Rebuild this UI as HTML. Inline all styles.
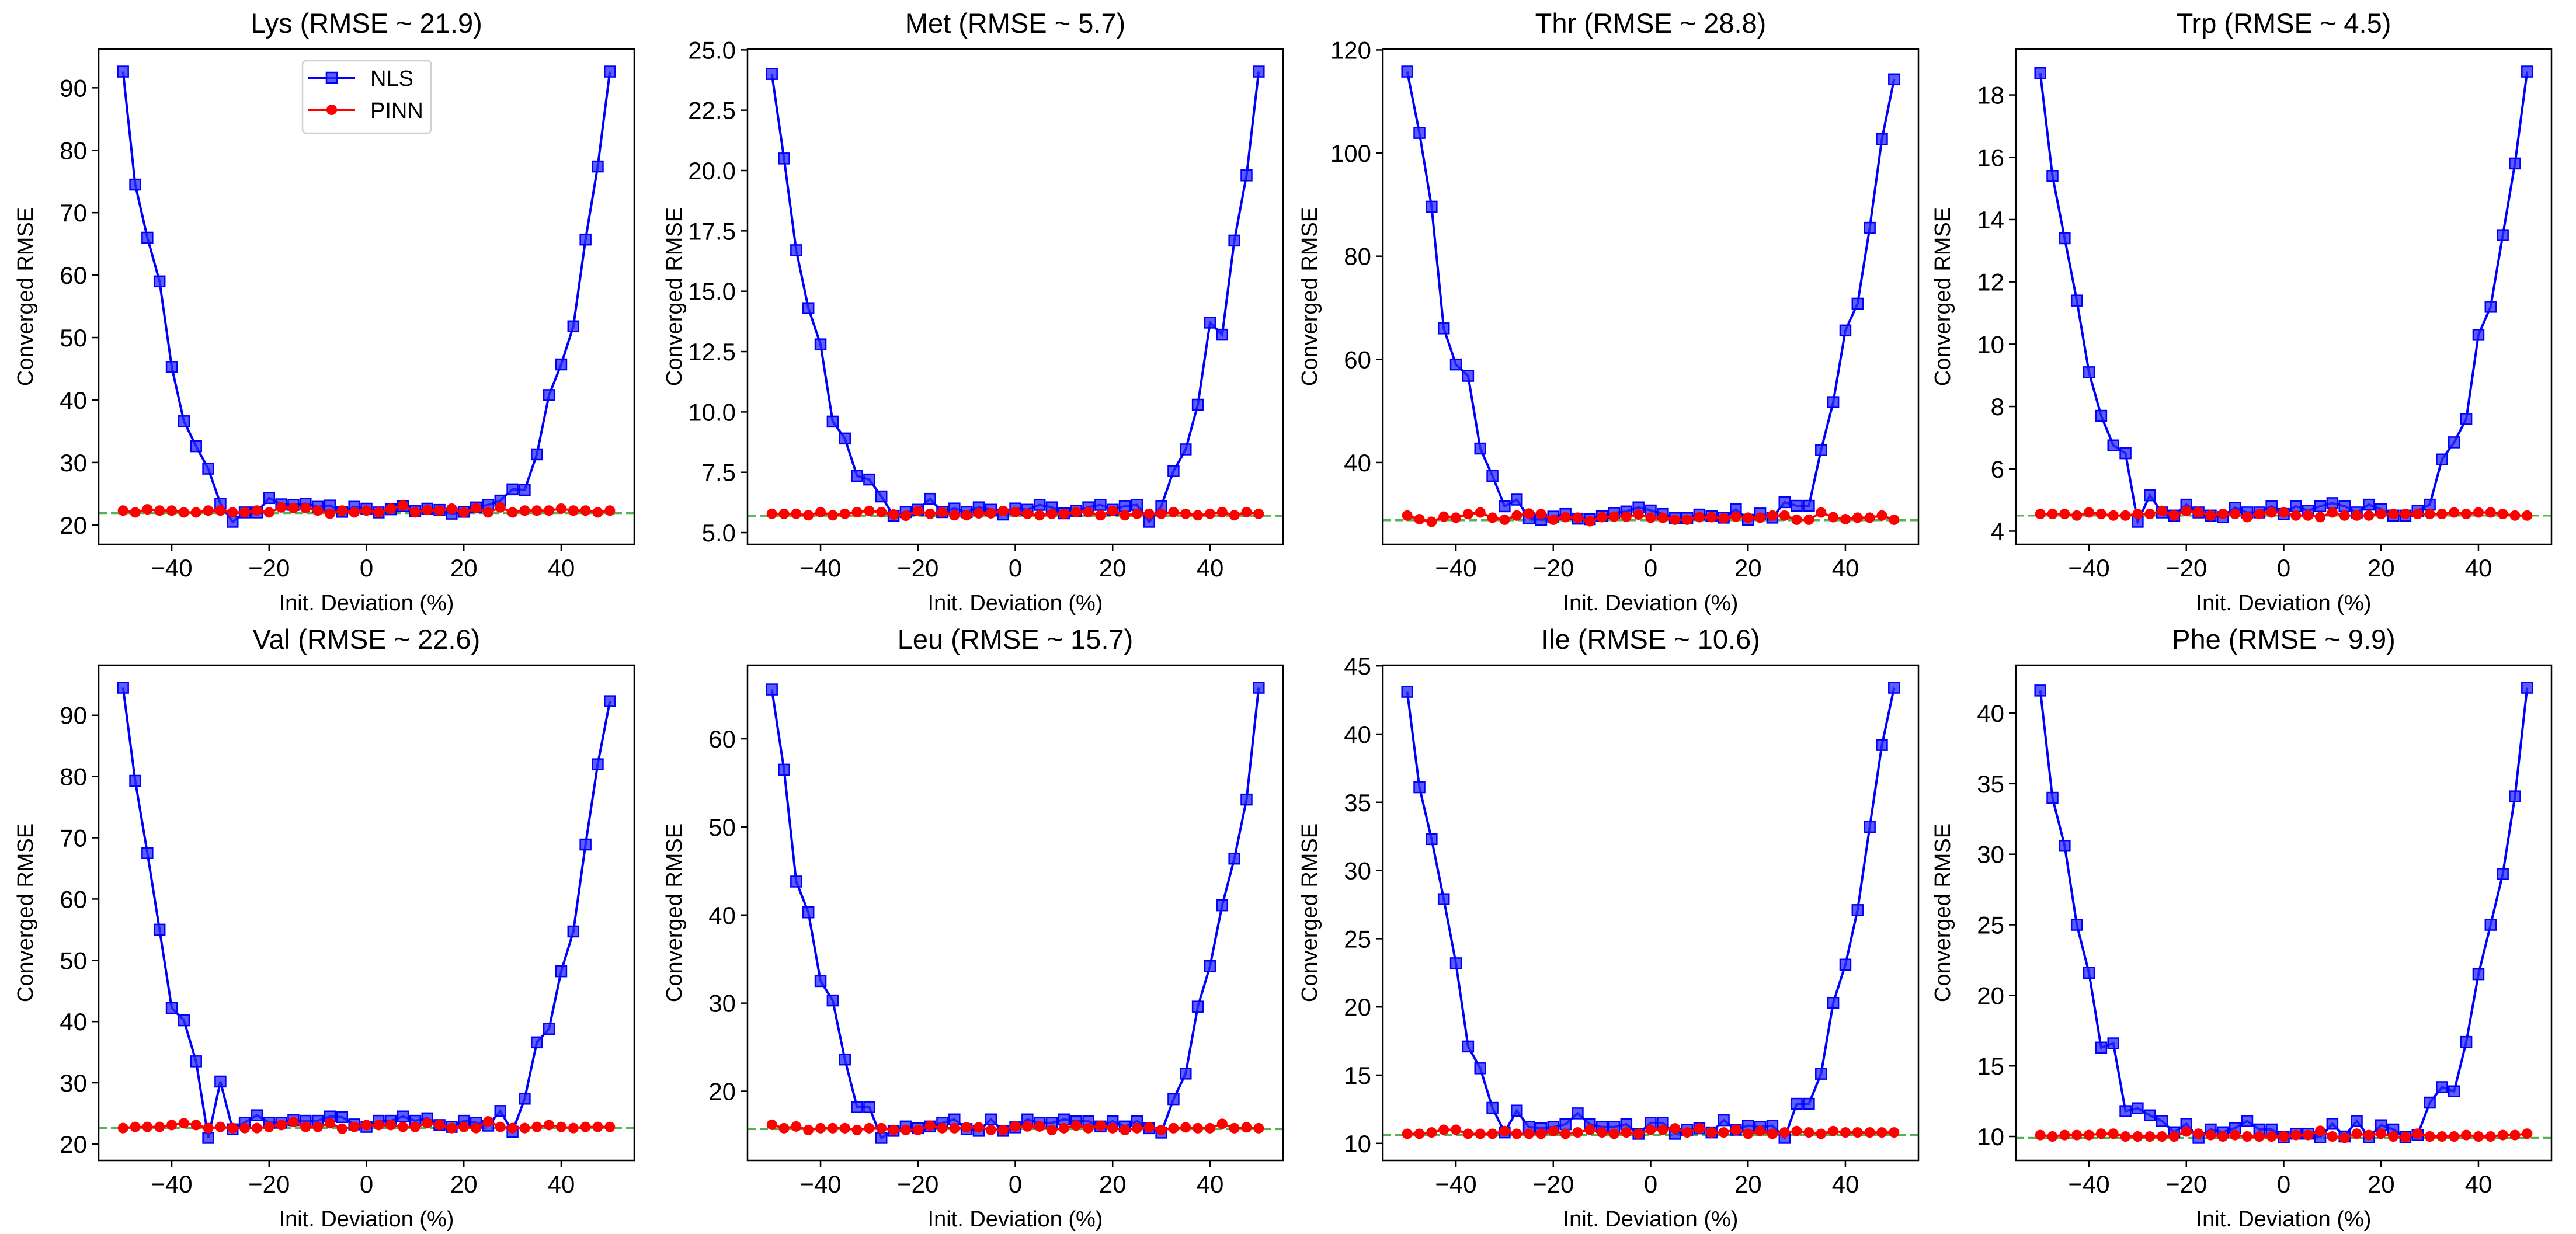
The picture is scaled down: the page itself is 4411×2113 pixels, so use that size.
<!DOCTYPE html>
<html><head><meta charset="utf-8"><style>
html,body{margin:0;padding:0;background:#fff;}
svg{display:block;font-family:"Liberation Sans",sans-serif;}
</style></head><body>
<svg id="fig" width="4411" height="2113" viewBox="0 0 4411 2113" xmlns="http://www.w3.org/2000/svg"></svg>
<script>
const xs = [-50,-47.5,-45,-42.5,-40,-37.5,-35,-32.5,-30,-27.5,-25,-22.5,-20,-17.5,-15,-12.5,-10,-7.5,-5,-2.5,0,2.5,5,7.5,10,12.5,15,17.5,20,22.5,25,27.5,30,32.5,35,37.5,40,42.5,45,47.5,50];
const xTicks = [-40,-20,0,20,40];
const names = ["Lys","Met","Thr","Trp","Val","Leu","Ile","Phe"];
const baselines = [21.9,5.7,28.8,4.5,22.6,15.7,10.6,9.9];
const nlsLys = [92.6,74.5,66,59,45.3,36.6,32.6,29,23.4,20.5,22,22,24.3,23.3,23.2,23.4,22.9,23.1,22.1,22.9,22.6,22,22.5,23,22.2,22.6,22.4,21.8,22.1,22.8,23.2,23.9,25.7,25.6,31.3,40.8,45.7,51.8,65.7,77.4,92.6];
const pinnLys = [22.3,22.0,22.5,22.3,22.3,22.0,22.0,22.3,22.3,22.0,22.0,22.3,22.0,22.8,22.7,22.7,22.3,21.8,22.3,22.0,22.3,22.0,22.6,23.1,22.0,22.4,22.3,22.6,22.0,22.7,22.0,22.8,22.0,22.3,22.3,22.3,22.6,22.3,22.3,22.0,22.3];
const nlsMet = [24.0,20.5,16.7,14.3,12.8,9.6,8.9,7.35,7.2,6.5,5.7,5.85,5.95,6.4,5.85,6.0,5.85,6.05,5.95,5.75,6.0,5.95,6.15,6.05,5.8,5.9,6.05,6.15,5.95,6.1,6.15,5.45,6.1,7.55,8.45,10.3,13.7,13.2,17.1,19.8,24.1];
const pinnMet = [5.78,5.78,5.78,5.72,5.85,5.72,5.78,5.85,5.9,5.85,5.75,5.7,5.9,5.78,5.85,5.72,5.72,5.8,5.8,5.9,5.85,5.78,5.72,5.78,5.78,5.85,5.85,5.72,5.9,5.72,5.78,5.78,5.78,5.85,5.78,5.72,5.78,5.85,5.72,5.85,5.78];
const nlsThr = [115.8,103.9,89.6,66,59,56.8,42.7,37.4,31.5,32.8,29.2,28.9,29.5,30,29.1,29.0,29.6,30.2,30.5,31.3,30.7,30.0,29.2,29.2,29.9,29.6,29.3,30.9,28.9,30.1,29.3,32.3,31.6,31.6,42.4,51.7,65.6,70.8,85.5,102.7,114.3];
const pinnThr = [29.7,29.0,28.5,29.5,29.3,30.0,30.3,29.3,28.9,29.7,30.1,30.0,28.9,29.4,29.3,28.6,29.4,29.5,29.5,29.9,29.3,29.3,28.9,28.9,29.4,29.4,29.2,29.5,29.3,29.3,29.7,29.7,28.9,28.9,30.3,29.4,29.0,29.3,29.3,29.7,28.9];
const nlsTrp = [18.7,15.4,13.4,11.4,9.1,7.7,6.75,6.5,4.3,5.15,4.6,4.5,4.85,4.6,4.5,4.45,4.75,4.6,4.6,4.8,4.55,4.8,4.65,4.8,4.9,4.8,4.6,4.85,4.7,4.5,4.5,4.65,4.85,6.3,6.85,7.6,10.3,11.2,13.5,15.8,18.75];
const pinnTrp = [4.55,4.55,4.55,4.5,4.6,4.55,4.5,4.5,4.55,4.55,4.65,4.5,4.65,4.6,4.5,4.55,4.55,4.45,4.55,4.6,4.6,4.5,4.5,4.45,4.6,4.5,4.5,4.5,4.55,4.55,4.55,4.55,4.55,4.55,4.6,4.55,4.6,4.6,4.55,4.5,4.5];
const nlsVal = [94.5,79.3,67.5,55,42.2,40.2,33.5,21,30.2,22.4,23.5,24.7,23.5,23.5,23.9,23.8,23.8,24.5,24.4,23.2,22.8,23.8,23.8,24.5,23.8,24.2,23.1,22.8,23.8,23.5,23.0,25.4,22.0,27.4,36.6,38.8,48.2,54.7,68.9,82,92.3];
const pinnVal = [22.6,22.8,22.8,22.8,23.1,23.4,23.1,22.6,22.8,22.6,22.6,22.6,22.8,23.1,23.6,22.8,22.8,23.4,22.5,22.8,23.1,23.1,23.1,22.8,22.8,23.4,23.1,22.6,22.8,22.6,23.7,22.8,22.6,22.6,22.8,23.1,22.8,22.6,22.8,22.8,22.8];
const nlsLeu = [65.6,56.5,43.8,40.3,32.5,30.3,23.6,18.2,18.2,14.7,15.5,16.0,15.8,16.0,16.4,16.8,15.7,15.5,16.8,15.5,15.9,16.8,16.4,16.4,16.8,16.6,16.6,16.0,16.6,16.0,16.6,15.8,15.3,19.1,22.0,29.6,34.2,41.1,46.4,53.1,65.8];
const pinnLeu = [16.2,15.8,16.0,15.6,15.8,15.8,15.8,15.6,15.8,15.8,15.6,15.6,15.6,16.1,15.8,15.8,15.9,15.9,15.6,15.6,16.0,16.0,16.0,15.6,15.8,16.1,15.8,16.1,15.8,15.6,15.8,15.9,15.6,15.8,15.9,15.8,15.8,16.3,15.8,15.9,15.8];
const nlsIle = [43.1,36.1,32.3,27.9,23.2,17.1,15.5,12.6,10.8,12.4,11.2,11.1,11.2,11.4,12.2,11.4,11.2,11.2,11.4,10.7,11.5,11.5,10.7,11.0,11.1,10.8,11.7,11.0,11.3,11.2,11.3,10.4,12.9,12.9,15.1,20.3,23.1,27.1,33.2,39.2,43.4];
const pinnIle = [10.7,10.7,10.8,11.0,11.0,10.7,10.7,10.7,10.9,10.7,10.7,10.7,10.9,10.7,10.8,11.0,10.8,10.7,10.8,10.7,11.0,11.0,11.1,10.8,11.1,10.8,10.8,11.0,10.7,10.9,10.7,10.8,10.9,10.8,10.7,10.9,10.8,10.8,10.8,10.8,10.8];
const nlsPhe = [41.6,34.0,30.6,25.0,21.6,16.3,16.6,11.8,12.0,11.5,11.1,10.3,10.9,9.9,10.5,10.3,10.6,11.1,10.5,10.5,9.95,10.2,10.2,9.95,10.9,10.0,11.1,9.95,10.8,10.5,9.95,10.1,12.4,13.5,13.2,16.7,21.5,25.0,28.6,34.1,41.8];
const pinnPhe = [10.1,10.0,10.1,10.1,10.1,10.2,10.2,10.0,10.0,10.0,10.0,10.0,10.35,10.2,10.1,10.0,10.1,10.0,10.0,10.0,10.0,10.1,10.1,10.4,10.0,9.9,10.2,10.1,10.2,10.0,9.95,10.2,10.0,10.0,10.0,10.1,10.0,10.0,10.1,10.1,10.2];
const nlsAll = [nlsLys,nlsMet,nlsThr,nlsTrp,nlsVal,nlsLeu,nlsIle,nlsPhe];
const pinnAll = [pinnLys,pinnMet,pinnThr,pinnTrp,pinnVal,pinnLeu,pinnIle,pinnPhe];
const yTicksLys = [20,30,40,50,60,70,80,90];
const yTicksMet = [5.0,7.5,10.0,12.5,15.0,17.5,20.0,22.5,25.0];
const yTicksThr = [40,60,80,100,120];
const yTicksTrp = [4,6,8,10,12,14,16,18];
const yTicksVal = [20,30,40,50,60,70,80,90];
const yTicksLeu = [20,30,40,50,60];
const yTicksIle = [10,15,20,25,30,35,40,45];
const yTicksPhe = [10,15,20,25,30,35,40];
const yTicksAll = [yTicksLys,yTicksMet,yTicksThr,yTicksTrp,yTicksVal,yTicksLeu,yTicksIle,yTicksPhe];
const yDecimals = [0,1,0,0,0,0,0,0];

const NS = "http://www.w3.org/2000/svg";
const fig = document.getElementById('fig');
function mk(tag, attrs, parent){ const e=document.createElementNS(NS,tag); for(const k in attrs) e.setAttribute(k,attrs[k]); (parent||fig).appendChild(e); return e; }

const lefts = [169,1280,2368,3452];
const tops = [84,1139];
const W = 917, H = 848;

for (let p=0;p<8;p++){
  const L = lefts[p%4], T = tops[Math.floor(p/4)];
  const g = mk('g',{});
  
  
  const nls = nlsAll[p], pinn = pinnAll[p];
  let lo = Math.min(...nls, ...pinn, baselines[p]), hi = Math.max(...nls, ...pinn, baselines[p]);
  const m = (hi-lo)*0.05; const y0 = lo-m, y1 = hi+m;
  const x0 = -55, x1 = 55;
  const sx = v => L + (v-x0)/(x1-x0)*W;
  const sy = v => T + H - (v-y0)/(y1-y0)*H;
  const clip = mk('clipPath',{id:'c'+p}, g); mk('rect',{x:L,y:T,width:W,height:H},clip);
  const plot = mk('g',{'clip-path':'url(#c'+p+')'}, g);
  const bl = mk('line',{x1:L,x2:L+W,y1:sy(baselines[p]),y2:sy(baselines[p]),stroke:'#2ca02c','stroke-width':3.5,'stroke-dasharray':'14,7',opacity:0.8}, plot);
  
  
  const nl = mk('polyline',{points:xs.map((x,i)=>sx(x)+','+sy(nls[i])).join(' '),fill:'none',stroke:'#0000ff','stroke-width':4}, plot);
  
  
  xs.forEach((x,i)=>{
    const r = mk('rect',{x:sx(x)-9,y:sy(nls[i])-9,width:18,height:18,fill:'rgba(40,40,255,0.75)',stroke:'#0000ff','stroke-width':2.5}, plot);
    
    
  });
  const pl = mk('polyline',{points:xs.map((x,i)=>sx(x)+','+sy(pinn[i])).join(' '),fill:'none',stroke:'#ff0000','stroke-width':4}, plot);
  
  
  xs.forEach((x,i)=>{
    const c = mk('circle',{cx:sx(x),cy:sy(pinn[i]),r:9,fill:'#ff0000'}, plot);
    
    
  });
  const sp = mk('rect',{x:L,y:T,width:W,height:H,fill:'none',stroke:'#000','stroke-width':2.5}, g);
  
  
  xTicks.forEach(t=>{
    mk('line',{x1:sx(t),x2:sx(t),y1:T+H,y2:T+H+12,stroke:'#000','stroke-width':2.5}, g);
    const tx = mk('text',{x:sx(t),y:T+H+55,'font-size':42,'text-anchor':'middle',fill:'#000'}, g);
    tx.textContent = (t<0?'\u2212':'')+Math.abs(t);
    
    
  });
  yTicksAll[p].forEach(t=>{
    if (t<y0||t>y1) return;
    mk('line',{x1:L-12,x2:L,y1:sy(t),y2:sy(t),stroke:'#000','stroke-width':2.5}, g);
    const ty = mk('text',{x:L-20,y:sy(t)+15,'font-size':42,'text-anchor':'end',fill:'#000'}, g);
    ty.textContent = t.toFixed(yDecimals[p]);
    
    
  });
  const xl = mk('text',{x:L+W/2,y:T+H+113,'font-size':38,'text-anchor':'middle',fill:'#000'}, g);
  xl.textContent = 'Init. Deviation (%)';
  
  
  const yl = mk('text',{x:0,y:0,'font-size':38,'text-anchor':'middle',fill:'#000',transform:'translate('+(L-113)+','+(T+H/2)+') rotate(-90)'}, g);
  yl.textContent = 'Converged RMSE';
  
  
  const tt = mk('text',{x:L+W/2,y:T-28,'font-size':47,'text-anchor':'middle',fill:'#000'}, g);
  tt.textContent = names[p]+' (RMSE ~ '+baselines[p].toFixed(1)+')';
  
  
  if (p===0){
    const lg = mk('g',{}, g);
    
    
    mk('rect',{x:518,y:104,width:220,height:124,rx:6,fill:'#fff',stroke:'#ccc','stroke-width':2.5,opacity:0.9}, lg);
    mk('line',{x1:528,x2:608,y1:133,y2:133,stroke:'#0000ff','stroke-width':4}, lg);
    mk('rect',{x:559,y:124,width:18,height:18,fill:'rgba(40,40,255,0.75)',stroke:'#0000ff','stroke-width':2.5}, lg);
    const t1 = mk('text',{x:634,y:147,'font-size':38,fill:'#000'}, lg); t1.textContent='NLS';
    
    
    mk('line',{x1:528,x2:608,y1:188,y2:188,stroke:'#ff0000','stroke-width':4}, lg);
    mk('circle',{cx:568,cy:188,r:9,fill:'#ff0000'}, lg);
    const t2 = mk('text',{x:634,y:202,'font-size':38,fill:'#000'}, lg); t2.textContent='PINN';
    
    
  }
}
</script>
</body></html>
